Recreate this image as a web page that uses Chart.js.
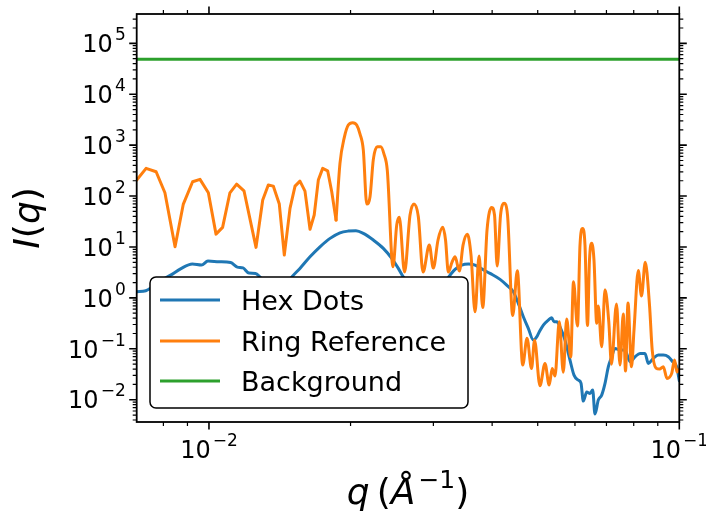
<!DOCTYPE html>
<html>
<head>
<meta charset="utf-8">
<script src="https://cdn.jsdelivr.net/npm/chart.js@4.4.1/dist/chart.umd.min.js"></script>
<style>
html,body{margin:0;padding:0;background:#fff;}
#wrap{width:706px;height:514px;position:relative;}
</style>
</head>
<body>
<div id="wrap"><canvas id="c" width="706" height="514"></canvas></div>
<script>
// ---- data ----
const seriesNames = ['Hex Dots', 'Ring Reference', 'Background'];
const seriesColors = ['#1f77b4', '#ff7f0e', '#2ca02c'];

const hexQ = [0.00702,0.00734,0.00758,0.00787,0.00829,0.00872,0.00922,0.00964,0.00995,0.0105,
  0.01112,0.01149,0.01181,0.01216,0.01256,0.01284,0.01335,0.01388,0.01437,0.01492,
  0.01561,0.0164,0.01722,0.01809,0.01899,0.01978,0.02054,0.02129,0.02236,0.02348,
  0.02447,0.02527,0.02589,0.02742,0.02922,0.03099,0.03255,0.03336,0.03447,0.0356,
  0.03679,0.0382,0.03959,0.04158,0.04295,0.04437,0.04547,0.0466,0.04775,0.04894,
  0.04976,0.0504,0.0514,0.05266,0.05354,0.05415,0.05487,0.05576,0.05714,0.05856,
  0.05972,0.06099,0.0618,0.0625,0.06355,0.06458,0.06544,0.06618,0.06726,0.06839,
  0.06951,0.07064,0.07182,0.0730,0.0748,0.07666,0.07856,0.08051,0.0825,0.08454,
  0.08592,0.08805,0.09023,0.09247,0.09476,0.09682,0.09874,0.1];
const hexI = [1.318,1.379,1.653,2.139,2.805,3.764,4.615,4.411,5.286,5.121,
  4.939,4.029,3.886,3.071,3.03,2.563,1.785,1.300,1.423,2.416,
  3.798,6.42,10.09,14.76,19.01,20.53,20.82,18.51,13.67,9.39,
  5.972,3.798,2.597,1.423,1.135,1.558,2.805,3.631,4.411,4.615,
  4.411,3.631,3.03,2.309,1.785,1.318,0.7798,0.4254,0.2517,0.1483,
  0.1721,0.2158,0.2922,0.3664,0.4066,0.3393,0.3393,0.2706,0.1483,0.06001,
  0.03043,0.02428,0.0212,0.00939,0.01411,0.0133,0.01545,0.00522,0.00982,0.01232,
  0.02091,0.04431,0.06965,0.1019,0.09432,0.09432,0.05557,0.06965,0.08123,0.08123,
  0.05167,0.06482,0.07518,0.07518,0.06965,0.05557,0.04431,0.02352];

const ringQ = [0.00702,0.00735,0.00772,0.00806,0.00847,0.00882,0.00923,0.00957,0.00997,0.01035,
  0.01069,0.01108,0.01145,0.01187,0.01259,0.01301,0.01337,0.0137,0.01411,0.01446,
  0.01487,0.01524,0.01561,0.016,0.0164,0.01674,0.01708,0.01745,0.01788,0.01824,
  0.01863,0.01899,0.0194,0.01978,0.02021,0.02061,0.02095,0.02129,0.02165,0.022,
  0.02236,0.0228,0.02318,0.02356,0.02394,0.02462,0.02507,0.02539,0.02605,0.02676,
  0.02729,0.02787,0.02852,0.02941,0.02999,0.03069,0.03141,0.03184,0.03228,0.03287,
  0.03336,0.03407,0.03469,0.03543,0.03607,0.03679,0.03752,0.0382,0.03901,0.03992,
  0.04047,0.0410,0.04168,0.0424,0.04313,0.04424,0.04525,0.04646,0.04745,0.04851,
  0.04923,0.05055,0.05181,0.05289,0.05367,0.05441,0.05557,0.05667,0.05762,0.05876,
  0.05957,0.06075,0.0615,0.06231,0.06302,0.0638,0.06442,0.06512,0.06586,0.06674,
  0.06726,0.06839,0.06951,0.07081,0.07175,0.07353,0.0748,0.07602,0.07685,0.07779,
  0.07913,0.08011,0.08181,0.08311,0.08463,0.08643,0.08758,0.08922,0.09081,0.09247,
  0.09416,0.09635,0.09768,0.09888,0.1];
const ringI = [206,350,300,116,10.1,69.7,191,213,116,17.9,
  24.3,116,172,127,9.82,83.5,165,157,69.7,6.93,
  57.3,157,197,125,22.2,42.4,206,350,314,122,
  33.8,439,1423,2482,2755,2482,1653,801,69.7,96.9,
  526,930,930,669,324,4.08,26.9,38.2,3.21,42.4,
  69.7,39.2,3.21,10.9,3.85,13.7,24.3,13.7,3.21,5.05,
  6.42,3.36,10.9,17.7,6.93,0.533,6.63,0.645,21.5,59.5,
  42.4,4.22,42.4,71.9,42.4,0.449,3.41,0.0479,0.162,0.0412,
  0.148,0.0189,0.0517,0.0194,0.0412,0.0291,0.339,0.0346,0.383,0.0687,
  2.07,0.279,10.9,23.2,10.9,0.286,5.53,11.9,5.53,0.316,
  0.69,0.11,1.44,0.339,0.05,0.756,0.0479,0.481,0.0365,0.791,
  0.0443,0.233,3.44,1.09,5.0,0.722,0.0943,0.0418,0.0399,0.0443,
  0.0262,0.0329,0.06,0.0349,0.04];
// the coarse low-q part of the ring curve is drawn straight, the fine part smooth
const ringCoarseCount = 31;

const bgQ = [0.00702, 0.1];
const bgI = [48500, 48500];

const xLimits = [0.00702, 0.1];
const yLimits = [0.00365, 3.77e5];
const xTickExps = [-2, -1];
const yTickExps = [-2, -1, 0, 1, 2, 3, 4, 5];
const xTitleParts = [['q','it'],['\u2009',''],['(',''],['\u00C5','it'],['\u22121','sup'],[')','']];
const yTitleParts = [['I','it'],['(',''],['q','it'],[')','']];

// ---- helpers ----
function zip(xs, ys){ const n=Math.min(xs.length, ys.length); const o=[]; for(let i=0;i<n;i++) o.push({x:xs[i], y:ys[i]}); return o; }

const FONT = '"DejaVu Sans", "Liberation Sans", sans-serif';
const TICK_PX = 24, SUP_PX = 17, SUP_RAISE = 12, SUP_GAP = 2;

function powLabel(ctx, exp, x, baseY, align){
  const base = '10';
  const sup = exp < 0 ? '\u2212' + (-exp) : String(exp);
  ctx.font = TICK_PX + 'px ' + FONT; const wb = ctx.measureText(base).width;
  ctx.font = SUP_PX + 'px ' + FONT; const ws = ctx.measureText(sup).width;
  const w = wb + SUP_GAP + ws;
  const x0 = align === 'right' ? x - w : x - w/2;
  ctx.textAlign = 'left'; ctx.textBaseline = 'alphabetic';
  ctx.font = TICK_PX + 'px ' + FONT; ctx.fillText(base, x0, baseY);
  ctx.font = SUP_PX + 'px ' + FONT; ctx.fillText(sup, x0 + wb + SUP_GAP, baseY - SUP_RAISE);
}

function partsFont(kind, size){
  if (kind === 'it') return 'italic ' + size + 'px ' + FONT;
  if (kind === 'sup') return Math.round(size*0.7) + 'px ' + FONT;
  return size + 'px ' + FONT;
}
function partsWidth(ctx, parts, size){
  let w = 0;
  for (const [t,k] of parts){ ctx.font = partsFont(k,size); w += ctx.measureText(t).width + (k==='sup'?3:0); }
  return w;
}
function drawParts(ctx, parts, x, y, size){
  let cx = x;
  for (const [t,k] of parts){
    ctx.font = partsFont(k,size);
    if (k === 'sup'){ cx += 3; ctx.fillText(t, cx, y - size*0.45); }
    else ctx.fillText(t, cx, y);
    cx += ctx.measureText(t).width;
  }
}

const frame = {
  id: 'frame',
  afterDatasetsDraw(chart){
    const {ctx, chartArea:a, scales} = chart;
    const xs = scales.x, ys = scales.y;
    ctx.save();
    ctx.fillStyle = '#000'; ctx.strokeStyle = '#000'; ctx.lineCap = 'butt';

    const eps = 1e-9;
    function each(min, max, fn){
      for (let e = Math.floor(Math.log10(min)) - 1; e <= Math.ceil(Math.log10(max)); e++){
        for (let k = 1; k <= 9; k++){
          const v = k * Math.pow(10, e);
          if (v >= min*(1-eps) && v <= max*(1+eps)) fn(v, k === 1);
        }
      }
    }
    each(xLimits[0], xLimits[1], (v, major) => {
      const p = xs.getPixelForValue(v); const len = major ? 7.5 : 4; ctx.lineWidth = major ? 1.6 : 1.2;
      ctx.beginPath();
      ctx.moveTo(p, a.bottom); ctx.lineTo(p, a.bottom + len);
      ctx.moveTo(p, a.top); ctx.lineTo(p, a.top - len);
      ctx.stroke();
    });
    each(yLimits[0], yLimits[1], (v, major) => {
      const p = ys.getPixelForValue(v); const len = major ? 7.5 : 4; ctx.lineWidth = major ? 1.6 : 1.2;
      ctx.beginPath();
      ctx.moveTo(a.left, p); ctx.lineTo(a.left - len, p);
      ctx.moveTo(a.right, p); ctx.lineTo(a.right + len, p);
      ctx.stroke();
    });

    ctx.lineWidth = 1.8;
    ctx.strokeRect(a.left, a.top, a.right - a.left, a.bottom - a.top);

    for (const e of yTickExps){
      const p = ys.getPixelForValue(Math.pow(10, e));
      powLabel(ctx, e, a.left - 11, p + 8.7, 'right');
    }
    for (const e of xTickExps){
      const p = xs.getPixelForValue(Math.pow(10, e));
      powLabel(ctx, e, p, a.bottom + 36, 'center');
    }

    const TS = 36;
    ctx.textAlign = 'left'; ctx.textBaseline = 'alphabetic';
    const wx = partsWidth(ctx, xTitleParts, TS);
    drawParts(ctx, xTitleParts, (a.left + a.right)/2 - wx/2, 504, TS);
    ctx.save();
    ctx.translate(38.5, (a.top + a.bottom)/2);
    ctx.rotate(-Math.PI/2);
    const wy = partsWidth(ctx, yTitleParts, TS);
    drawParts(ctx, yTitleParts, -wy/2, 0, TS);
    ctx.restore();

    // legend (one row per named series)
    const lx = 150, ly = 277, lw = 318, lh = 131, r = 6;
    ctx.beginPath();
    ctx.moveTo(lx + r, ly); ctx.lineTo(lx + lw - r, ly); ctx.arcTo(lx + lw, ly, lx + lw, ly + r, r);
    ctx.lineTo(lx + lw, ly + lh - r); ctx.arcTo(lx + lw, ly + lh, lx + lw - r, ly + lh, r);
    ctx.lineTo(lx + r, ly + lh); ctx.arcTo(lx, ly + lh, lx, ly + lh - r, r);
    ctx.lineTo(lx, ly + r); ctx.arcTo(lx, ly, lx + r, ly, r); ctx.closePath();
    ctx.fillStyle = '#fff'; ctx.fill();
    ctx.lineWidth = 1.5; ctx.strokeStyle = '#000'; ctx.stroke();
    const rows = [300, 341, 381];
    const named = chart.data.datasets.filter(ds => !ds.hideInLegend);
    named.forEach((ds, i) => {
      const yy = rows[i];
      ctx.strokeStyle = ds.borderColor; ctx.lineWidth = 3;
      ctx.beginPath(); ctx.moveTo(160, yy); ctx.lineTo(220, yy); ctx.stroke();
      ctx.fillStyle = '#000'; ctx.font = '27px ' + FONT; ctx.textAlign = 'left'; ctx.textBaseline = 'alphabetic';
      ctx.fillText(ds.label, 241, yy + 9.8);
    });
    ctx.restore();
  }
};

const ringPts = zip(ringQ, ringI);
new Chart(document.getElementById('c'), {
  type: 'line',
  data: {
    datasets: [
      { label: seriesNames[0], data: zip(hexQ, hexI), borderColor: seriesColors[0], order: 4,
        tension: 0.4, cubicInterpolationMode: 'monotone' },
      { label: seriesNames[1], data: ringPts.slice(ringCoarseCount - 1), borderColor: seriesColors[1], order: 2,
        tension: 0.4, cubicInterpolationMode: 'monotone' },
      { label: seriesNames[2], data: zip(bgQ, bgI), borderColor: seriesColors[2], order: 1 },
      { label: seriesNames[1], data: ringPts.slice(0, ringCoarseCount), borderColor: seriesColors[1], order: 3,
        tension: 0, hideInLegend: true }
    ]
  },
  options: {
    responsive: false,
    animation: false,
    devicePixelRatio: 1,
    layout: { padding: { left: 136.7, right: 26.7, top: 14, bottom: 92 } },
    datasets: { line: { clip: 0 } },
    elements: {
      point: { radius: 0, hoverRadius: 0 },
      line: { borderWidth: 3, fill: false, borderJoinStyle: 'round', borderCapStyle: 'round' }
    },
    plugins: { legend: { display: false }, tooltip: { enabled: false } },
    scales: {
      x: { type: 'logarithmic', min: xLimits[0], max: xLimits[1], display: false },
      y: { type: 'logarithmic', min: yLimits[0], max: yLimits[1], display: false }
    }
  },
  plugins: [frame]
});
</script>
</body>
</html>
